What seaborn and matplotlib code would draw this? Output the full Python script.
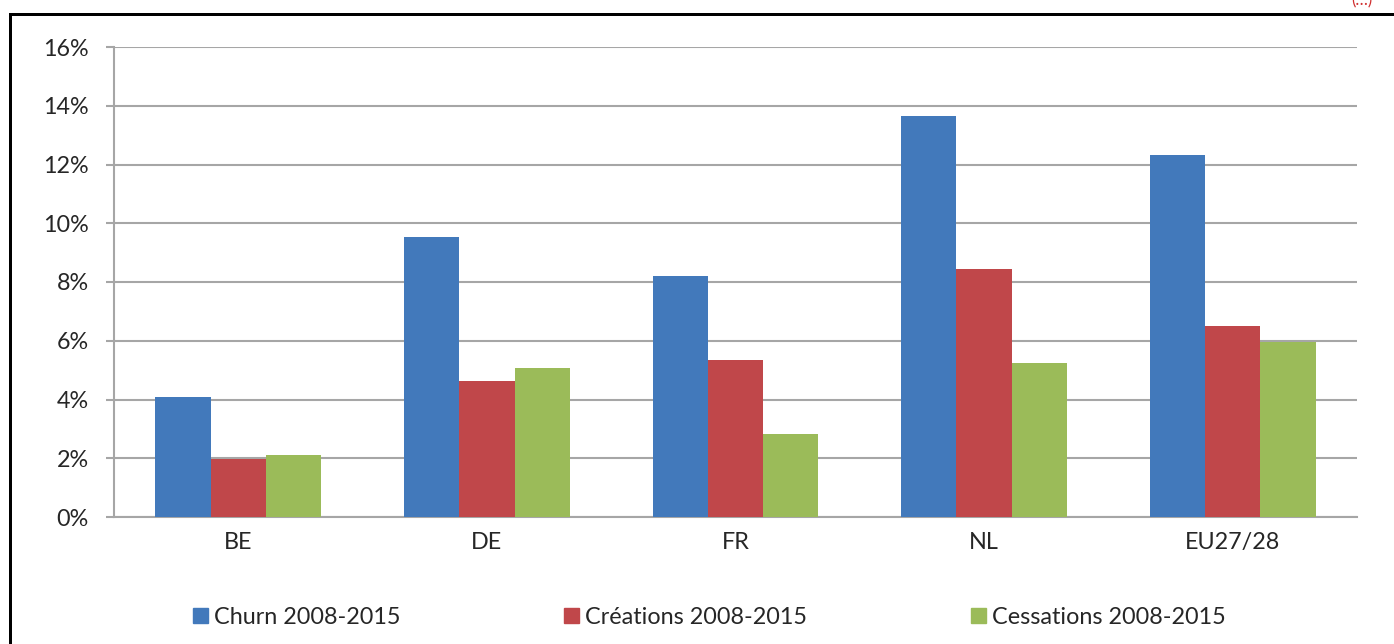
import numpy as np
import pandas as pd
import matplotlib
matplotlib.use("Agg")
import matplotlib.pyplot as plt
import seaborn as sns
from matplotlib.lines import Line2D
from matplotlib.ticker import PercentFormatter, FixedLocator

# values (share, 0-1)
pays = ["BE", "DE", "FR", "NL", "EU27/28"]
series = ["Churn 2008-2015", "Créations 2008-2015", "Cessations 2008-2015"]
churn = [0.0408, 0.0953, 0.0820, 0.1365, 0.1232]
creations = [0.0197, 0.0463, 0.0534, 0.0844, 0.0650]
cessations = [0.0211, 0.0507, 0.0283, 0.0524, 0.0596]
colors = ["#4279BB", "#C0474A", "#9BBB59"]

df = pd.DataFrame({
    "pays": pays * 3,
    "serie": [series[0]] * 5 + [series[1]] * 5 + [series[2]] * 5,
    "valeur": churn + creations + cessations,
})

sns.set_style("white")
plt.rcParams["font.family"] = ["Lato", "DejaVu Sans"]
fs = 16.8

W, H = 1394, 644
fig = plt.figure(figsize=(W / 100, H / 100), dpi=100)
ax = fig.add_axes([114 / W, (H - 517) / H, (1357 - 114) / W, (517 - 47) / H])

sns.barplot(data=df, x="pays", y="valeur", hue="serie", palette=colors,
            width=0.667, gap=0, saturation=1, linewidth=0, ax=ax, zorder=3)

grid_c = "#A6A6A6"
ax.set_ylim(0, 0.16)
ax.set_xlim(-0.5, 4.5)
ax.yaxis.set_major_locator(FixedLocator(np.arange(0, 0.161, 0.02)))
ax.yaxis.set_major_formatter(PercentFormatter(1.0, decimals=0))
ax.grid(axis="y", color=grid_c, lw=1.5, zorder=0)
ax.set_axisbelow(True)
for s in ["top", "right"]:
    ax.spines[s].set_visible(False)
for s in ["left", "bottom"]:
    ax.spines[s].set_color(grid_c)
    ax.spines[s].set_linewidth(1.5)

ax.set_xticks(np.arange(-0.5, 5, 1), minor=True)
ax.tick_params(axis="x", which="major", length=0, pad=11, labelsize=fs)
ax.tick_params(axis="x", which="minor", length=6, width=1.5, color=grid_c)
ax.tick_params(axis="y", length=6, width=1.5, color=grid_c, pad=12, labelsize=fs,
               left=True)
ax.set_xlabel("")
ax.set_ylabel("")

ax.legend_.remove()
handles = [plt.Rectangle((0, 0), 1, 1, color=c) for c in colors]
fig.legend(handles, series, loc="center", bbox_to_anchor=(0.5088, (H - 617) / H),
           ncol=3, frameon=False, fontsize=fs, handlelength=0.64, handleheight=0.64,
           handletextpad=0.28, columnspacing=7.0)

# black frame (left and top edges visible in the crop)
lw = 3 * 72 / 100
fig.add_artist(Line2D([10 / W, 10 / W], [0, 1 - 13.5 / H], color="black", lw=lw,
                      transform=fig.transFigure, solid_capstyle="projecting"))
fig.add_artist(Line2D([10 / W, 1], [1 - 13.5 / H, 1 - 13.5 / H], color="black", lw=lw,
                      transform=fig.transFigure, solid_capstyle="projecting"))
fig.text(1362 / W, 1.0, "(…)", color="#D03030", fontsize=12, va="center", ha="center")

fig.savefig("out.png", dpi=100)
